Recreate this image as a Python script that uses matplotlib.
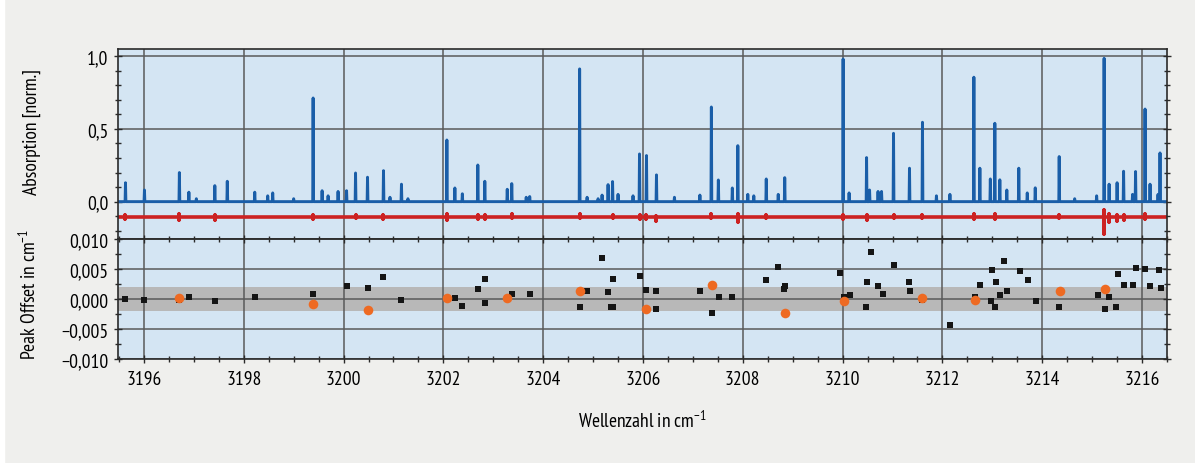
import matplotlib
matplotlib.use("Agg")
import matplotlib.pyplot as plt
from matplotlib import font_manager
from matplotlib.ticker import MultipleLocator, FuncFormatter
from matplotlib.patches import Rectangle
import numpy as np

# schmale Schrift suchen (aehnlich Myriad Condensed)
installed = set(f.name for f in font_manager.fontManager.ttflist)
narrow = [n for n in ['PT Sans Narrow', 'Fira Sans Condensed', 'Roboto Condensed', 'Open Sans Condensed',
                      'Archivo Narrow', 'Asap Condensed', 'Barlow Semi Condensed'] if n in installed]
font = narrow[0] if narrow else 'DejaVu Sans'
plt.rcParams['font.family'] = [font, 'DejaVu Sans']
plt.rcParams['mathtext.fontset'] = 'custom'
plt.rcParams['mathtext.rm'] = font
plt.rcParams['mathtext.it'] = font
plt.rcParams['mathtext.default'] = 'rm'

# Spektrum: Peak-Positionen (cm^-1) und Hoehen (norm.)
peak_pos = [3195.63, 3196.01, 3196.71, 3196.90, 3197.05, 3197.42, 3197.67, 3198.22, 3198.48, 3198.58,
            3199.00, 3199.39, 3199.57, 3199.69, 3199.89, 3200.06, 3200.24, 3200.48, 3200.80, 3200.93,
            3201.16, 3201.29, 3202.07, 3202.23, 3202.38, 3202.69, 3202.83, 3203.28, 3203.37, 3203.66,
            3203.73, 3204.73, 3204.88, 3205.10, 3205.18, 3205.30, 3205.39, 3205.50, 3205.80, 3205.93,
            3206.07, 3206.27, 3206.63, 3207.14, 3207.37, 3207.51, 3207.79, 3207.90, 3208.10, 3208.22,
            3208.47, 3208.71, 3208.84, 3210.01, 3210.13, 3210.48, 3210.54, 3210.71, 3210.78, 3211.02,
            3211.34, 3211.60, 3211.88, 3212.15, 3212.63, 3212.75, 3212.96, 3213.05, 3213.15, 3213.29,
            3213.53, 3213.70, 3213.86, 3214.34, 3214.65, 3215.09, 3215.24, 3215.34, 3215.50, 3215.63,
            3215.81, 3215.87, 3216.06, 3216.16, 3216.32, 3216.36]
peak_h = [0.13, 0.08, 0.20, 0.065, 0.02, 0.11, 0.14, 0.065, 0.04, 0.06,
          0.02, 0.713, 0.075, 0.04, 0.07, 0.075, 0.197, 0.168, 0.213, 0.03,
          0.12, 0.02, 0.424, 0.094, 0.054, 0.252, 0.14, 0.085, 0.124, 0.03,
          0.035, 0.913, 0.03, 0.02, 0.045, 0.117, 0.138, 0.05, 0.04, 0.328,
          0.317, 0.184, 0.03, 0.045, 0.651, 0.149, 0.094, 0.385, 0.05, 0.04,
          0.156, 0.05, 0.165, 0.981, 0.06, 0.303, 0.08, 0.07, 0.07, 0.47,
          0.23, 0.546, 0.04, 0.05, 0.856, 0.23, 0.156, 0.539, 0.15, 0.08,
          0.23, 0.06, 0.095, 0.31, 0.02, 0.04, 0.986, 0.12, 0.13, 0.209,
          0.05, 0.207, 0.637, 0.12, 0.05, 0.335]

# Residuum: Positionen und Ausschlaege (oben / unten)
res_pos = [3195.63, 3196.71, 3197.42, 3199.39, 3200.24, 3200.80, 3202.07, 3202.69, 3202.83, 3203.37,
           3204.73, 3205.39, 3205.93, 3206.07, 3206.27, 3207.37, 3207.90, 3208.47, 3210.01, 3210.48,
           3211.02, 3211.60, 3212.63, 3213.05, 3214.34, 3215.24, 3215.34, 3215.50, 3215.63, 3216.06]
res_up = [0.012, 0.02, 0.01, 0.015, 0.01, 0.012, 0.02, 0.015, 0.015, 0.018,
          0.022, 0.012, 0.015, 0.012, 0.008, 0.018, 0.02, 0.01, 0.012, 0.015,
          0.01, 0.012, 0.018, 0.018, 0.01, 0.045, 0.02, 0.015, 0.015, 0.02]
res_dn = [0.012, 0.02, 0.022, 0.012, 0.01, 0.015, 0.02, 0.015, 0.015, 0.01,
          0.01, 0.01, 0.012, 0.012, 0.025, 0.01, 0.035, 0.01, 0.012, 0.022,
          0.01, 0.01, 0.015, 0.012, 0.01, 0.12, 0.035, 0.03, 0.02, 0.012]
res_base = -0.105

# Peak-Offsets
sq_x = [3195.62, 3196.00, 3196.70, 3196.90, 3197.43, 3198.22, 3199.39, 3200.06, 3200.48, 3200.80,
        3201.16, 3202.23, 3202.38, 3202.69, 3202.83, 3202.83, 3203.37, 3203.73, 3204.73, 3204.88,
        3205.18, 3205.30, 3205.40, 3205.35, 3205.39, 3205.93, 3206.07, 3206.27, 3206.27, 3207.14,
        3207.38, 3207.52, 3207.79, 3208.47, 3208.71, 3208.84, 3208.82, 3209.95, 3210.02, 3210.14,
        3210.46, 3210.49, 3210.56, 3210.71, 3210.80, 3211.02, 3211.34, 3211.35, 3211.60, 3212.16,
        3212.65, 3212.75, 3212.98, 3213.00, 3213.07, 3213.06, 3213.16, 3213.23, 3213.30, 3213.55,
        3213.72, 3213.87, 3214.34, 3215.11, 3215.25, 3215.34, 3215.48, 3215.51, 3215.63, 3215.82,
        3215.87, 3216.06, 3216.16, 3216.33, 3216.37]
sq_y = [0.0000, -0.0001, -0.0002, 0.0003, -0.0003, 0.0003, 0.0008, 0.0022, 0.0019, 0.0036,
        -0.0002, 0.0001, -0.0011, 0.0017, 0.0034, -0.0007, 0.0008, 0.0008, -0.0014, 0.0013,
        0.0068, 0.0011, 0.0034, -0.0014, -0.0014, 0.0038, 0.0015, 0.0013, -0.0016, 0.0014,
        -0.0024, 0.0003, 0.0003, 0.0031, 0.0054, 0.0022, 0.0016, 0.0044, 0.0004, 0.0006,
        -0.0013, 0.0028, 0.0079, 0.0022, 0.0008, 0.0057, 0.0029, 0.0014, -0.0002, -0.0043,
        0.0003, 0.0023, -0.0003, 0.0048, 0.0028, -0.0013, 0.0007, 0.0063, 0.0014, 0.0046,
        0.0032, -0.0003, -0.0013, 0.0006, -0.0017, 0.0004, -0.0013, 0.0041, 0.0023, 0.0023,
        0.0052, 0.0050, 0.0021, 0.0049, 0.0019]
dot_x = [3196.70, 3199.39, 3200.48, 3202.07, 3203.28, 3204.73, 3206.07, 3207.38, 3208.84, 3210.02,
         3211.60, 3212.65, 3214.35, 3215.25]
dot_y = [0.0002, -0.0009, -0.0019, 0.0001, 0.0001, 0.0013, -0.0016, 0.0023, -0.0023, -0.0004,
         0.0001, -0.0001, 0.0013, 0.0016]
band = 0.002

xmin, xmax = 3195.48, 3216.5
bg = '#efefed'
axbg = '#d4e5f3'
gridc = '#5a5a5a'
blue = '#1a5ea8'
red = '#cc2222'
orange = '#ee6a22'

# Linienzuege aus den Peaklisten
order = np.argsort(peak_pos)
w = 0.008
sx = [xmin]
sy = [0.0]
for i in order:
    p, h = peak_pos[i], peak_h[i]
    sx += [p - w, p, p + w]
    sy += [0.0, h, 0.0]
sx.append(xmax)
sy.append(0.0)

rx = [xmin]
ry = [res_base]
for p, u, dn in sorted(zip(res_pos, res_up, res_dn)):
    rx += [p, p, p, p]
    ry += [res_base, res_base + u, res_base - dn, res_base]
rx.append(xmax)
ry.append(res_base)

fig = plt.figure(figsize=(11.95, 4.64), dpi=100, facecolor=bg)
fig.patches.append(Rectangle((0, 0), 4 / 1195, 1, transform=fig.transFigure, color='white', zorder=0))

L, W = 118 / 1195, 1049 / 1195
ax1 = fig.add_axes([L, 1 - 240 / 464, W, 190 / 464])
ax2 = fig.add_axes([L, 1 - 360 / 464, W, 120 / 464], sharex=ax1)

comma = lambda fmt: FuncFormatter(lambda v, pos: (fmt % v).replace('.', ',').replace('-', '\u2212'))

for ax in (ax1, ax2):
    ax.set_facecolor(axbg)
    ax.set_xlim(xmin, xmax)
    ax.xaxis.set_major_locator(MultipleLocator(2))
    ax.xaxis.set_minor_locator(MultipleLocator(0.5))
    ax.grid(True, which='major', color=gridc, lw=1.1)
    ax.set_axisbelow(True)
    for s in ax.spines.values():
        s.set_color('#2a2a2a')
        s.set_linewidth(1.2)
    ax.tick_params(which='both', direction='inout', color='#2a2a2a', labelsize=14,
                   left=True, right=True, top=True, bottom=True)
    ax.tick_params(which='major', length=6, width=1)
    ax.tick_params(which='minor', length=4, width=1)

ax1.plot(sx, sy, color=blue, lw=2.1, solid_joinstyle='round')
ax1.plot(rx, ry, color=red, lw=2.6, solid_joinstyle='round')
ax1.set_ylim(-0.257, 1.05)
ax1.yaxis.set_major_locator(MultipleLocator(0.5))
ax1.yaxis.set_minor_locator(MultipleLocator(0.1))
ax1.yaxis.set_major_formatter(comma('%.1f'))
ax1.tick_params(axis='x', which='both', top=False, bottom=False, labelbottom=False)
ax1.tick_params(axis='y', which='both', pad=4)
ax1.set_ylabel('Absorption [norm.]', fontsize=14)
ax1.yaxis.set_label_coords(-0.073, 0.57)

ax2.axhspan(-band, band, color='#b8b8b8', zorder=0.5, lw=0)
ax2.scatter(sq_x, sq_y, marker='s', s=22, color='#151515', zorder=3, lw=0)
ax2.scatter(dot_x, dot_y, marker='o', s=48, color=orange, zorder=4, lw=0)
ax2.set_ylim(-0.010, 0.010)
ax2.yaxis.set_major_locator(MultipleLocator(0.005))
ax2.yaxis.set_minor_locator(MultipleLocator(0.0025))
ax2.yaxis.set_major_formatter(comma('%.3f'))
ax2.tick_params(axis='x', which='both', pad=5)
ax2.tick_params(axis='y', which='both', pad=4)
ax2.set_ylabel('Peak Offset in cm$^{\u22121}$', fontsize=14)
ax2.yaxis.set_label_coords(-0.075, 0.55)
ax2.set_xlabel('Wellenzahl in cm$^{\u22121}$', fontsize=14)
ax2.xaxis.set_label_coords(0.5, -0.42)

fig.savefig('out.png', dpi=100, facecolor=bg)
